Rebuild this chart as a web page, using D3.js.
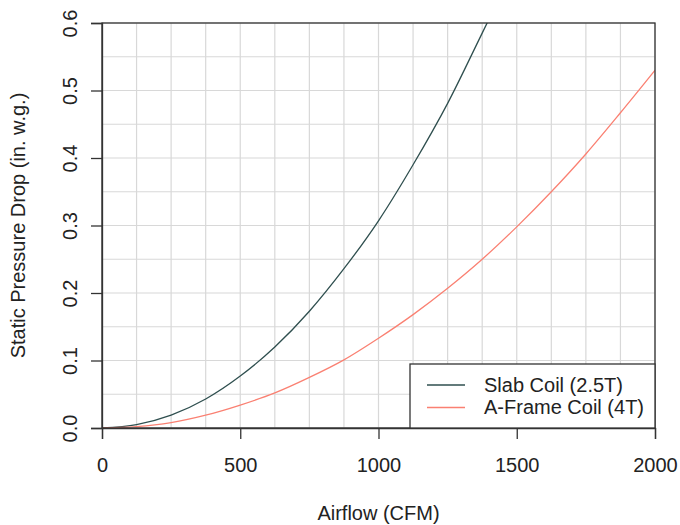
<!DOCTYPE html>
<html>
<head>
<meta charset="utf-8">
<script src="https://cdn.jsdelivr.net/npm/d3@7/dist/d3.min.js"></script>
<style>
  html, body { margin: 0; padding: 0; background: #fff; }
  svg { display: block; }
  text { font-family: "Liberation Sans", Arial, sans-serif; fill: #222; }
</style>
</head>
<body>
<svg id="chart" width="680" height="525"></svg>
<script>
// Data
const airflow = [0, 125, 250, 375, 500, 625, 750, 875, 1000, 1125, 1250, 1375, 1500, 1625, 1750, 1875, 2000];
const slabCoil = [0, 0.005, 0.019, 0.043, 0.077, 0.12, 0.173, 0.236, 0.307, 0.39, 0.481, 0.585, 0.69, null, null, null, null];
const aFrameCoil = [0, 0.002, 0.008, 0.019, 0.034, 0.052, 0.075, 0.101, 0.133, 0.168, 0.207, 0.25, 0.298, 0.35, 0.406, 0.467, 0.53];
const xTicks = [0, 500, 1000, 1500, 2000];
const yTicks = [0.0, 0.1, 0.2, 0.3, 0.4, 0.5, 0.6];
const xGrid = d3.range(0, 2001, 125);
const yGrid = d3.range(0, 0.6001, 0.05);
const seriesNames = ["Slab Coil (2.5T)", "A-Frame Coil (4T)"];
const seriesColors = ["#2F4F4F", "#FA8072"];

const svg = d3.select("#chart");
const m = { left: 102, right: 655, top: 23, bottom: 428 };
const x = d3.scaleLinear().domain([0, 2000]).range([m.left, m.right]);
const y = d3.scaleLinear().domain([0, 0.6]).range([m.bottom, m.top]);
const FS = 20;

svg.append("defs").append("clipPath").attr("id", "clip")
  .append("rect").attr("x", m.left).attr("y", m.top)
  .attr("width", m.right - m.left).attr("height", m.bottom - m.top);

// grid
const grid = svg.append("g").attr("stroke", "#d8d8d8").attr("stroke-width", 1.2);
grid.selectAll("line.v").data(xGrid).join("line").attr("class", "v")
  .attr("x1", d => x(d)).attr("x2", d => x(d)).attr("y1", m.top).attr("y2", m.bottom);
grid.selectAll("line.h").data(yGrid).join("line").attr("class", "h")
  .attr("y1", d => y(d)).attr("y2", d => y(d)).attr("x1", m.left).attr("x2", m.right);

// series
const series = [slabCoil, aFrameCoil];
const line = d3.line()
  .defined(d => d[1] != null)
  .x(d => x(d[0])).y(d => y(d[1]))
  .curve(d3.curveMonotoneX);
const plot = svg.append("g").attr("clip-path", "url(#clip)");
series.forEach((s, i) => {
  plot.append("path")
    .datum(airflow.map((a, j) => [a, s[j]]))
    .attr("fill", "none")
    .attr("stroke", seriesColors[i])
    .attr("stroke-width", 1.3)
    .attr("d", line);
});

// box
svg.append("rect").attr("x", m.left).attr("y", m.top)
  .attr("width", m.right - m.left).attr("height", m.bottom - m.top)
  .attr("fill", "none").attr("stroke", "#333").attr("stroke-width", 1.3);

// axes
const xAxis = d3.axisBottom(x).tickValues(xTicks).tickSize(11).tickPadding(19).tickFormat(d3.format("d"));
const gx = svg.append("g").attr("transform", `translate(0,${m.bottom})`).call(xAxis);
gx.select(".domain").attr("stroke", "#333").attr("stroke-width", 1.3);
gx.selectAll(".tick line").attr("stroke", "#333").attr("stroke-width", 1.3);
gx.selectAll(".tick text").attr("font-size", FS).attr("fill", "#222")
  .attr("font-family", "Liberation Sans, Arial, sans-serif");

const yAxis = d3.axisLeft(y).tickValues(yTicks).tickSize(11).tickFormat(d3.format(".1f"));
const gy = svg.append("g").attr("transform", `translate(${m.left},0)`).call(yAxis);
gy.select(".domain").attr("stroke", "#333").attr("stroke-width", 1.3);
gy.selectAll(".tick line").attr("stroke", "#333").attr("stroke-width", 1.3);
gy.selectAll(".tick text")
  .attr("font-size", FS).attr("fill", "#222")
  .attr("font-family", "Liberation Sans, Arial, sans-serif")
  .attr("x", null).attr("dy", null)
  .attr("text-anchor", "middle")
  .attr("transform", "translate(-25,0) rotate(-90)");

// axis titles
svg.append("text").attr("x", (m.left + m.right) / 2).attr("y", 520)
  .attr("text-anchor", "middle").attr("font-size", FS).text("Airflow (CFM)");
svg.append("text").attr("transform", `translate(25,${(m.top + m.bottom) / 2}) rotate(-90)`)
  .attr("text-anchor", "middle").attr("font-size", FS).text("Static Pressure Drop (in. w.g.)");

// legend
const lg = svg.append("g");
lg.append("rect").attr("x", 410).attr("y", 364).attr("width", m.right - 410).attr("height", m.bottom - 364)
  .attr("fill", "#fff").attr("stroke", "#333").attr("stroke-width", 1.3);
seriesNames.forEach((n, i) => {
  const yy = 385 + i * 22.5;
  lg.append("line").attr("x1", 427).attr("x2", 465).attr("y1", yy).attr("y2", yy)
    .attr("stroke", seriesColors[i]).attr("stroke-width", 1.3);
  lg.append("text").attr("x", 484).attr("y", 391.5 + i * 22.5)
    .attr("font-size", FS).text(n);
});
</script>
</body>
</html>
